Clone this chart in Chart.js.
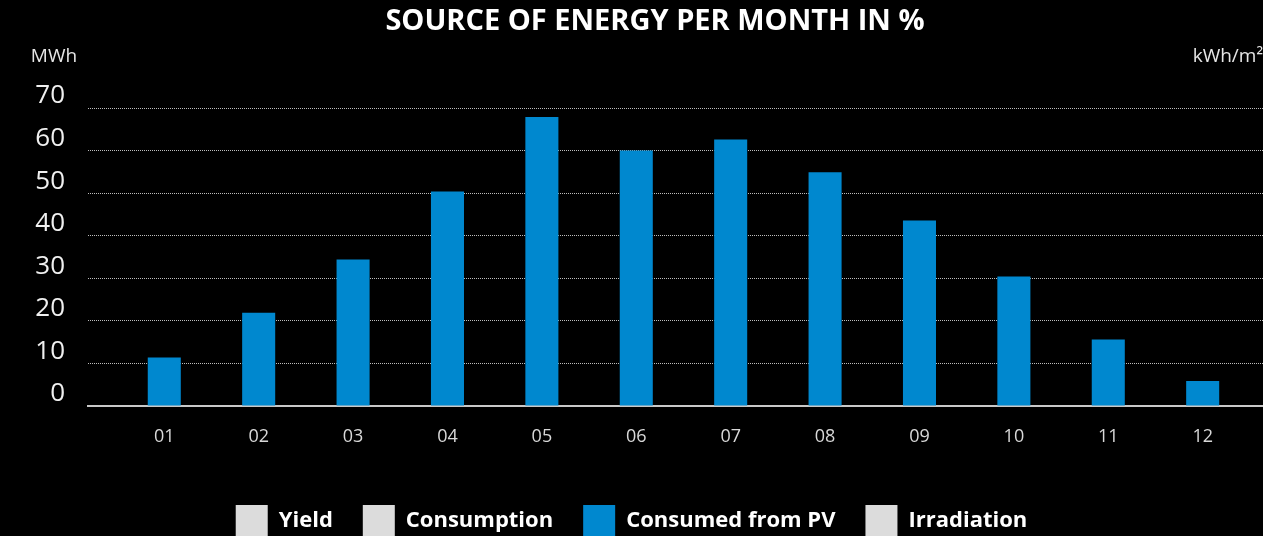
<!DOCTYPE html>
<html>
<head>
<meta charset="utf-8">
<script src="https://cdn.jsdelivr.net/npm/chart.js@4"></script>
<style>
  html, body { margin: 0; padding: 0; background: #000; }
  #wrap { width: 1263px; height: 536px; position: relative; }
</style>
</head>
<body>
<div id="wrap"><canvas id="chart"></canvas></div>
<script>
const months = ['01', '02', '03', '04', '05', '06', '07', '08', '09', '10', '11', '12'];
const consumedFromPV = [11.4, 21.9, 34.4, 50.4, 67.9, 60.0, 62.6, 54.9, 43.6, 30.4, 15.6, 5.9];
const yieldValues = [];
const consumption = [];
const irradiation = [];
const yTicks = [0, 10, 20, 30, 40, 50, 60, 70];

const title = 'SOURCE OF ENERGY PER MONTH IN %';
const leftUnit = 'MWh';
const rightUnit = 'kWh/m\u00B2';

const gray = '#dcdcdc';
const blue = '#0088cf';

function points(vals) {
    return vals.map((v, i) => ({ x: i + 1, y: v }));
}

// title + unit labels drawn straight on the canvas
const headerPlugin = {
    id: 'header',
    afterDraw(chart) {
        const ctx = chart.ctx;
        ctx.save();
        ctx.fillStyle = '#fff';
        ctx.textBaseline = 'middle';
        ctx.textAlign = 'center';
        ctx.font = 'bold 29px "Open Sans"';
        ctx.fillText(title, 655, 22);
        ctx.fillStyle = '#e6e6e6';
        ctx.font = '19px "Open Sans"';
        ctx.fillText(leftUnit, 54, 57);
        ctx.textAlign = 'right';
        ctx.fillText(rightUnit, 1263, 57);
        ctx.restore();
    }
};

const ctx = document.getElementById('chart').getContext('2d');
new Chart(ctx, {
    type: 'bar',
    data: {
        datasets: [
            { label: 'Yield', data: points(yieldValues), backgroundColor: gray },
            { label: 'Consumption', data: points(consumption), backgroundColor: gray },
            { label: 'Consumed from PV', data: points(consumedFromPV), backgroundColor: blue },
            { label: 'Irradiation', data: points(irradiation), backgroundColor: gray }
        ]
    },
    options: {
        responsive: true,
        maintainAspectRatio: false,
        animation: false,
        grouped: false,
        categoryPercentage: 1,
        barPercentage: 0.35,
        layout: { padding: { top: 108, left: 0, right: 0, bottom: -11 } },
        plugins: {
            title: { display: false },
            tooltip: { enabled: false },
            legend: {
                position: 'bottom',
                labels: {
                    color: '#fff',
                    boxWidth: 32,
                    boxHeight: 32,
                    padding: 30,
                    font: { family: '"Open Sans"', size: 22, weight: 'bold' }
                }
            }
        },
        scales: {
            x: {
                type: 'linear',
                min: 0.192,
                max: 12.639,
                offset: false,
                grid: { display: false, offset: false },
                border: { display: true, color: '#c8c8c8', width: 2 },
                afterBuildTicks(axis) {
                    axis.ticks = months.map((m, i) => ({ value: i + 1 }));
                },
                afterFit(axis) { axis.height = 69; },
                ticks: {
                    autoSkip: false,
                    maxRotation: 0,
                    padding: 12,
                    color: '#d8d8d8',
                    font: { family: '"Open Sans"', size: 18 },
                    callback: (v, i) => months[i]
                }
            },
            y: {
                min: 0,
                max: 70,
                afterBuildTicks(axis) {
                    axis.ticks = yTicks.map(v => ({ value: v }));
                },
                afterFit(axis) { axis.width = 88; },
                grid: { color: '#bdbdbd', lineWidth: 1, drawTicks: false },
                border: { display: false, dash: [1, 1] },
                ticks: {
                    padding: 23,
                    labelOffset: -12,
                    color: '#f0f0f0',
                    font: { family: '"Open Sans"', size: 26 }
                }
            }
        }
    },
    plugins: [headerPlugin]
});
</script>
</body>
</html>
